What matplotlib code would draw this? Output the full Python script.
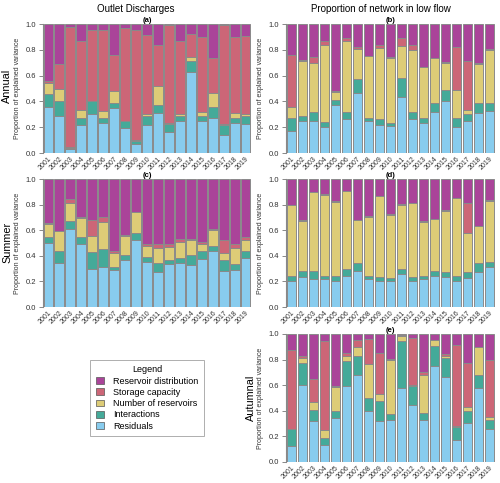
import numpy as np
import matplotlib
matplotlib.use("Agg")
import matplotlib.pyplot as plt
from matplotlib.patches import Patch

plt.rcParams['font.family'] = ['Liberation Sans', 'DejaVu Sans']

years = [str(y) for y in range(2001, 2020)]
components = ["Residuals", "Interactions", "Number of reservoirs", "Storage capacity", "Reservoir distribution"]
colors = {"Reservoir distribution": "#AA4499", "Storage capacity": "#CC6677",
          "Number of reservoirs": "#DDCC77", "Interactions": "#44AA99", "Residuals": "#88CCEE"}

# (a) Annual - Outlet discharges
a_res = [.36, .29, .03, .22, .30, .23, .345, .19, .07, .22, .31, .16, .245, .63, .25, .27, .14, .235, .225]
a_int = [.095, .11, .01, .05, .10, .045, .045, .055, .02, .07, .06, .065, .045, .08, .04, .09, .08, .04, .06]
a_num = [.085, .095, .005, .065, .005, .05, .09, .005, .01, .015, .15, .01, .015, .035, .03, .105, .005, .035, .015]
a_sto = [.015, .195, .93, .535, .55, .63, .28, .72, .855, .61, .32, .755, .56, .18, .58, .275, .765, .59, .61]
a_dis = [.445, .31, .025, .13, .045, .045, .24, .03, .045, .085, .16, .01, .135, .075, .10, .26, .01, .10, .09]

# (b) Annual - Proportion of network in low flow
b_res = [.17, .245, .25, .205, .37, .26, .465, .245, .215, .21, .435, .265, .235, .32, .40, .205, .25, .31, .325]
b_int = [.10, .045, .065, .035, .04, .055, .105, .03, .05, .025, .15, .055, .04, .065, .085, .07, .05, .08, .06]
b_num = [.09, .425, .38, .60, .065, .555, .235, .475, .55, .505, .245, .48, .39, .35, .215, .215, .035, .30, .415]
b_sto = [.40, .005, .05, .03, .005, .025, .02, .005, .025, .005, .065, .035, .005, .005, .005, .335, .38, .005, .01]
b_dis = [.24, .28, .255, .13, .52, .105, .175, .245, .16, .255, .105, .165, .33, .26, .295, .175, .285, .305, .19]

# (c) Summer - Outlet discharges
c_res = [.50, .34, .61, .495, .30, .31, .29, .365, .52, .35, .27, .335, .345, .33, .375, .435, .285, .29, .38]
c_int = [.05, .10, .06, .05, .13, .145, .025, .04, .06, .04, .07, .035, .035, .08, .06, .045, .08, .045, .055]
c_num = [.10, .15, .145, .15, .125, .21, .105, .15, .16, .09, .12, .095, .13, .115, .06, .125, .06, .125, .09]
c_sto = [.005, .005, .03, .005, .125, .035, .015, .005, .005, .01, .03, .03, .025, .01, .01, .005, .095, .035, .025]
c_dis = [.345, .405, .155, .30, .32, .30, .565, .44, .255, .51, .51, .505, .465, .465, .495, .39, .48, .505, .45]

# (d) Summer - Proportion of network in low flow
d_res = [.20, .235, .22, .215, .205, .245, .285, .215, .20, .20, .26, .205, .215, .24, .235, .205, .225, .27, .31]
d_int = [.04, .045, .065, .03, .035, .055, .055, .03, .035, .025, .035, .03, .025, .04, .035, .035, .045, .07, .045]
d_num = [.555, .395, .61, .63, .58, .605, .34, .46, .63, .495, .505, .58, .425, .41, .48, .615, .305, .29, .475]
d_sto = [.005, .005, .005, .005, .005, .005, .0, .005, .005, .005, .005, .0, .005, .0, .005, .0, .24, .005, .005]
d_dis = [.20, .32, .10, .12, .175, .09, .32, .29, .13, .275, .195, .185, .33, .31, .245, .145, .185, .365, .165]

# (e) Autumnal - Proportion of network in low flow
e_res = [.125, .605, .32, .135, .345, .59, .68, .40, .32, .33, .575, .445, .33, .75, .665, .175, .305, .575, .255]
e_int = [.13, .17, .09, .055, .055, .20, .15, .10, .16, .045, .37, .15, .055, .155, .15, .095, .095, .105, .07]
e_num = [.0, .035, .055, .06, .185, .04, .065, .265, .05, .42, .04, .005, .295, .045, .015, .015, .03, .215, .03]
e_sto = [.62, .015, .18, .695, .005, .02, .055, .195, .32, .01, .005, .365, .02, .005, .015, .63, .345, .005, .44]
e_dis = [.125, .175, .355, .055, .41, .15, .05, .04, .15, .195, .01, .035, .30, .045, .155, .085, .225, .10, .205]

panels = [
    ("(a)", [a_res, a_int, a_num, a_sto, a_dis], (43, 24, 208, 129)),
    ("(b)", [b_res, b_int, b_num, b_sto, b_dis], (286, 24, 209, 129)),
    ("(c)", [c_res, c_int, c_num, c_sto, c_dis], (43, 179, 208, 128)),
    ("(d)", [d_res, d_int, d_num, d_sto, d_dis], (286, 179, 209, 128)),
    ("(e)", [e_res, e_int, e_num, e_sto, e_dis], (286, 334, 209, 128)),
]

W, H = 500, 483
fig = plt.figure(figsize=(W / 100, H / 100), dpi=100)
x = np.arange(len(years))
for label, series, (px, py, pw, ph) in panels:
    ax = fig.add_axes([px / W, 1 - (py + ph) / H, pw / W, ph / H])
    bottom = np.zeros(len(years))
    for name, vals in zip(components, series):
        vals = np.array(vals)
        ax.bar(x, vals, bottom=bottom, width=0.9, color=colors[name],
               edgecolor='#8a8a8a', linewidth=0.7)
        bottom += vals
    ax.set_xlim(-0.5, len(years) - 0.5)
    ax.set_ylim(0, 1.0)
    ax.set_yticks([0, 0.2, 0.4, 0.6, 0.8, 1.0])
    ax.set_yticklabels(['0.0', '0.2', '0.4', '0.6', '0.8', '1.0'], fontsize=5.5, color='#333333')
    ax.set_xticks(x)
    ax.set_xticklabels(years, rotation=45, ha='right', rotation_mode='anchor', fontsize=5, color='#333333')
    ax.tick_params(axis='x', length=0, pad=2)
    ax.tick_params(axis='y', length=3, width=0.7, color='#888888', pad=2)
    for s in ['top', 'right', 'bottom']:
        ax.spines[s].set_visible(False)
    ax.spines['left'].set_color('#888888')
    ax.spines['left'].set_linewidth(0.8)
    ax.set_ylabel('Proportion of explained variance', fontsize=5, color='#333333')
    ax.yaxis.set_label_coords(-22 / pw, 0.5)
    ax.set_title(label, fontsize=5.5, fontweight='bold', pad=1.5)

fig.text(136 / W, 1 - 9 / H, 'Outlet Discharges', ha='center', va='center', fontsize=7)
fig.text(381 / W, 1 - 9 / H, 'Proportion of network in low flow', ha='center', va='center', fontsize=7)
fig.text(7 / W, 1 - 86 / H, 'Annual', rotation=90, ha='center', va='center', fontsize=7.8)
fig.text(7 / W, 1 - 242 / H, 'Summer', rotation=90, ha='center', va='center', fontsize=7.8)
fig.text(251 / W, 1 - 398 / H, 'Autumnal', rotation=90, ha='center', va='center', fontsize=7.8)

handles = [Patch(facecolor=colors[n], edgecolor='#555555', linewidth=0.5) for n in components[::-1]]
leg = fig.legend(handles, components[::-1], title='Legend', loc='center',
                 bbox_to_anchor=(147 / W, 1 - 398 / H), fontsize=6.5, title_fontsize=6.5,
                 frameon=True, fancybox=False, edgecolor='#999999',
                 handlelength=0.9, handleheight=0.8, handletextpad=1.0, labelspacing=0.25,
                 borderpad=0.6)
leg.get_frame().set_linewidth(0.7)

fig.savefig('out.png', dpi=100)
